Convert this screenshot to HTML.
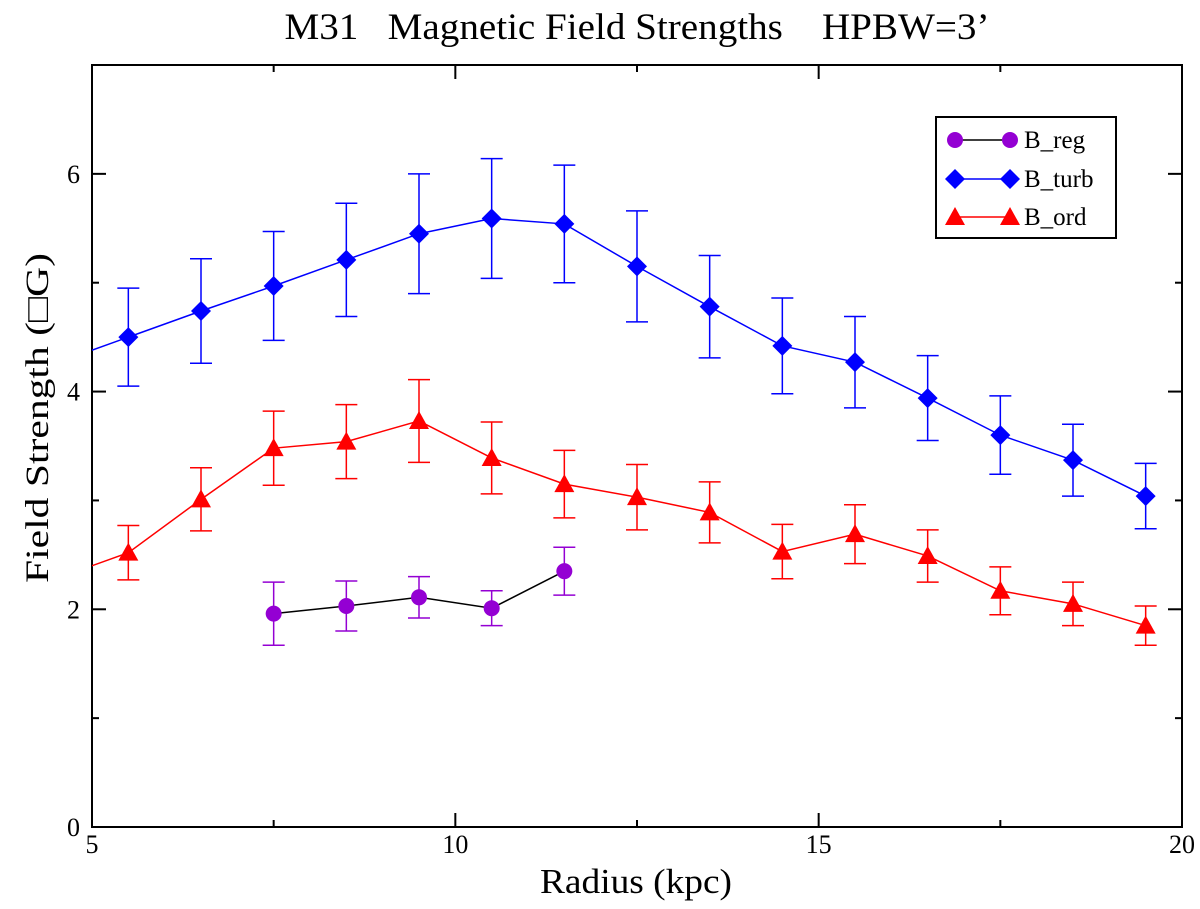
<!DOCTYPE html>
<html><head><meta charset="utf-8"><style>
body{margin:0;background:#fff}
text{font-family:"Liberation Serif",serif;fill:#000}
</style></head><body>
<svg id="chart" width="1200" height="904" viewBox="0 0 1200 904">
<defs><clipPath id="clip"><rect x="92" y="65" width="1090" height="762"/></clipPath></defs>
<text x="637" y="39" font-size="37" text-anchor="middle" style="white-space:pre" xml:space="preserve" textLength="705" lengthAdjust="spacingAndGlyphs">M31   Magnetic Field Strengths    HPBW=3’</text>
<rect x="92" y="65" width="1090" height="762" fill="none" stroke="#000" stroke-width="2"/>
<g id="axes"></g>
<g id="series" clip-path="url(#clip)"></g>
<text x="636" y="893" font-size="35" text-anchor="middle" textLength="192" lengthAdjust="spacingAndGlyphs">Radius (kpc)</text>
<text transform="translate(48,418) rotate(-90)" font-size="33" text-anchor="middle" textLength="330" lengthAdjust="spacingAndGlyphs">Field Strength (□G)</text>
<g>
<rect x="936" y="117" width="180" height="121" fill="#fff" stroke="#000" stroke-width="2"/>
<g id="legend"></g>
</g>
</svg>
<script>
const xs=[4.5,5.5,6.5,7.5,8.5,9.5,10.5,11.5,12.5,13.5,14.5,15.5,16.5,17.5,18.5,19.5];
const turb=[4.26,4.50,4.74,4.97,5.21,5.45,5.59,5.54,5.15,4.78,4.42,4.27,3.94,3.60,3.37,3.04];
const turbErr=[0.45,0.45,0.48,0.5,0.52,0.55,0.55,0.54,0.51,0.47,0.44,0.42,0.39,0.36,0.33,0.30];
const ord=[2.28,2.52,3.01,3.48,3.54,3.73,3.39,3.15,3.03,2.89,2.53,2.69,2.49,2.17,2.05,1.85];
const ordErr=[0.25,0.25,0.29,0.34,0.34,0.38,0.33,0.31,0.30,0.28,0.25,0.27,0.24,0.22,0.20,0.18];
const regX=[7.5,8.5,9.5,10.5,11.5];
const reg=[1.96,2.03,2.11,2.01,2.35];
const regErr=[0.29,0.23,0.19,0.16,0.22];
const xTicks=[5,10,15,20];
const yTicks=[0,2,4,6];
const NS='http://www.w3.org/2000/svg';
const X=v=>92+(v-5)*1090/15;
const Y=v=>827-v*762/7;
function mk(tag,attrs,parent){const e=document.createElementNS(NS,tag);for(const k in attrs)e.setAttribute(k,attrs[k]);parent.appendChild(e);return e;}
const axes=document.getElementById('axes');
for(let v=5;v<=20;v+=2.5){const maj=xTicks.includes(v);const L=maj?14:7;
 mk('line',{x1:X(v),x2:X(v),y1:827,y2:827-L,stroke:'#000','stroke-width':2},axes);
 mk('line',{x1:X(v),x2:X(v),y1:65,y2:65+L,stroke:'#000','stroke-width':2},axes);}
xTicks.forEach(v=>{const t=mk('text',{x:X(v),y:853,'font-size':26,'text-anchor':'middle'},axes);t.textContent=v;

});
for(let v=0;v<=7;v+=1){const maj=yTicks.includes(v);const L=maj?14:7;
 mk('line',{x1:92,x2:92+L,y1:Y(v),y2:Y(v),stroke:'#000','stroke-width':2},axes);
 mk('line',{x1:1182,x2:1182-L,y1:Y(v),y2:Y(v),stroke:'#000','stroke-width':2},axes);}
yTicks.forEach(v=>{const t=mk('text',{x:80,y:Y(v)+9,'font-size':26,'text-anchor':'end'},axes);t.textContent=v;

});
const ser=document.getElementById('series');
function marker(shape,cx,cy,color,parent){
 if(shape==='circle')return mk('circle',{cx,cy,r:8,fill:color},parent);
 if(shape==='diamond')return mk('polygon',{points:`${cx},${cy-10} ${cx+10},${cy} ${cx},${cy+10} ${cx-10},${cy}`,fill:color},parent);
 return mk('polygon',{points:`${cx},${cy-10} ${cx+10},${cy+8} ${cx-10},${cy+8}`,fill:color},parent);}
function series(name,xv,yv,ev,color,lineColor,shape){
 const g=mk('g',{},ser);
 
 
 mk('polyline',{points:xv.map((x,i)=>X(x)+','+Y(yv[i])).join(' '),fill:'none',stroke:lineColor,'stroke-width':1.5},g);
 xv.forEach((x,i)=>{const cx=X(x),t=Y(yv[i]+ev[i]),b=Y(yv[i]-ev[i]);
  mk('path',{d:`M${cx},${t}V${b}M${cx-11},${t}H${cx+11}M${cx-11},${b}H${cx+11}`,stroke:color,'stroke-width':1.5,fill:'none'},g);
  const m=marker(shape,cx,Y(yv[i]),color,g);
  
  });}
series('b-turb',xs,turb,turbErr,'#0000ff','#0000ff','diamond');
series('b-ord',xs,ord,ordErr,'#ff0000','#ff0000','triangle');
series('b-reg',regX,reg,regErr,'#9400d3','#000','circle');
const lg=document.getElementById('legend');
[['B_reg','#9400d3','#000','circle',140],['B_turb','#0000ff','#0000ff','diamond',179],['B_ord','#ff0000','#ff0000','triangle',217]].forEach(([n,c,lc,s,y])=>{
 const g=mk('g',{},lg);
 
 
 mk('line',{x1:955,x2:1010,y1:y,y2:y,stroke:lc,'stroke-width':1.5},g);
 marker(s,955,y,c,g);marker(s,1010,y,c,g);
 const t=mk('text',{x:1024,y:y+8,'font-size':25},g);t.textContent=n;});
</script>
</body></html>
